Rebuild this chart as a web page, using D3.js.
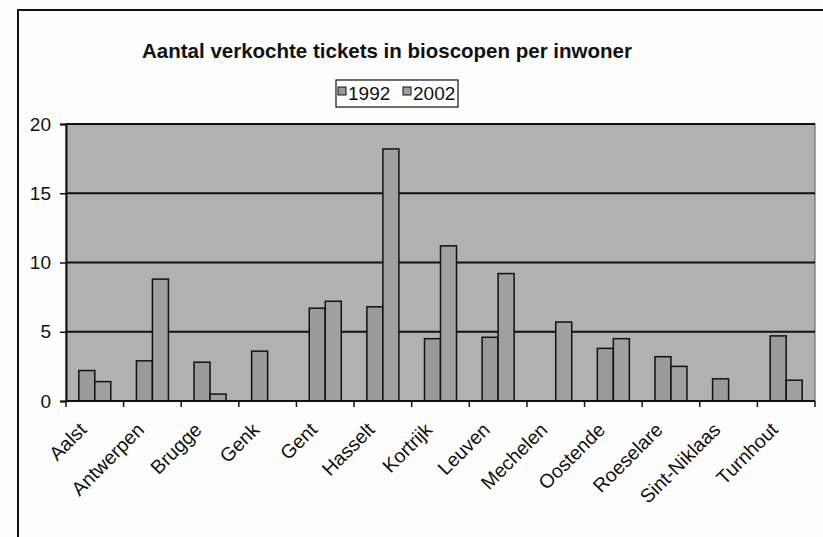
<!DOCTYPE html>
<html>
<head>
<meta charset="utf-8">
<script src="https://cdn.jsdelivr.net/npm/d3@7"></script>
<style>
  body { margin: 0; background: #fdfdfd; }
  text { font-family: "Liberation Sans", Arial, sans-serif; fill: #111; }
</style>
</head>
<body>
<div id="chart"></div>
<script>
const cities = ["Aalst", "Antwerpen", "Brugge", "Genk", "Gent", "Hasselt", "Kortrijk",
  "Leuven", "Mechelen", "Oostende", "Roeselare", "Sint-Niklaas", "Turnhout"];
const series = ["1992", "2002"];
const v1992 = [2.2, 2.9, 2.8, 3.6, 6.7, 6.8, 4.5, 4.6, null, 3.8, 3.2, 1.6, 4.7];
const v2002 = [1.4, 8.8, 0.5, null, 7.2, 18.2, 11.2, 9.2, 5.7, 4.5, 2.5, null, 1.5];
const yTicks = [0, 5, 10, 15, 20];

const w = 823;
const h = 537;
const colors = { "1992": "#9a9a9a", "2002": "#a0a0a0" };

const svg = d3.select("#chart").append("svg").attr("width", w).attr("height", h);

// outer chart frame (only left and top edges show in the picture)
svg.append("rect")
  .attr("x", 18).attr("y", 10)
  .attr("width", 830).attr("height", 540)
  .attr("fill", "none").attr("stroke", "#111").attr("stroke-width", 2);

const x = d3.scaleBand().domain(cities).range([66, 815]);
const xs = d3.scaleBand().domain(series).range([0, x.bandwidth()]).paddingOuter(0.8);
const y = d3.scaleLinear().domain([0, 20]).range([401, 124]);

// plot area
svg.append("rect")
  .attr("x", 66).attr("y", y(20))
  .attr("width", 815 - 66).attr("height", y(0) - y(20))
  .attr("fill", "#b1b1b1").attr("stroke", "#555").attr("stroke-width", 1);

svg.append("g")
  .selectAll("line")
  .data(yTicks.filter((d) => d > 0))
  .join("line")
  .attr("x1", 66).attr("x2", 815)
  .attr("y1", (d) => y(d)).attr("y2", (d) => y(d))
  .attr("stroke", "#111").attr("stroke-width", 2);

const rows = cities.map((c, i) => ({ city: c, "1992": v1992[i], "2002": v2002[i] }));

svg.append("g")
  .selectAll("g")
  .data(rows)
  .join("g")
  .attr("transform", (d) => `translate(${x(d.city)},0)`)
  .selectAll("rect")
  .data((d) => series.filter((s) => d[s] != null).map((s) => ({ s, v: d[s] })))
  .join("rect")
  .attr("x", (d) => xs(d.s))
  .attr("width", xs.bandwidth())
  .attr("y", (d) => y(d.v))
  .attr("height", (d) => y(0) - y(d.v))
  .attr("fill", (d) => colors[d.s])
  .attr("stroke", "#111")
  .attr("stroke-width", 1.5);

// axes
const gy = svg.append("g")
  .attr("transform", "translate(66,0)")
  .call(d3.axisLeft(y).tickValues(yTicks).tickSize(6).tickPadding(9));
gy.select(".domain").attr("stroke", "#111").attr("stroke-width", 2);
gy.selectAll(".tick line").attr("stroke", "#111").attr("stroke-width", 1.5);
gy.selectAll("text").attr("font-size", 19).style("font-family", "Liberation Sans, Arial, sans-serif");

const gx = svg.append("g").attr("transform", `translate(0,${y(0)})`);
gx.append("line")
  .attr("x1", 66).attr("x2", 815).attr("stroke", "#111").attr("stroke-width", 2);
gx.selectAll(".tk")
  .data(cities.concat(["end"]))
  .join("line")
  .attr("class", "tk")
  .attr("x1", (d, i) => 66 + i * x.step()).attr("x2", (d, i) => 66 + i * x.step())
  .attr("y1", 0).attr("y2", 6)
  .attr("stroke", "#111").attr("stroke-width", 1.5);
gx.selectAll(".lbl")
  .data(cities)
  .join("text")
  .attr("class", "lbl")
  .attr("text-anchor", "end")
  .attr("font-size", 19.5)
  .attr("transform", (d) => `translate(${x(d) + x.bandwidth() / 2 - 7},${30}) rotate(-45)`)
  .text((d) => d);

// title
svg.append("text")
  .attr("x", 387).attr("y", 58)
  .attr("text-anchor", "middle")
  .attr("font-size", 20.5)
  .attr("font-weight", "bold")
  .text("Aantal verkochte tickets in bioscopen per inwoner");

// legend
const lg = svg.append("g");
lg.append("rect")
  .attr("x", 336).attr("y", 80).attr("width", 122).attr("height", 27)
  .attr("fill", "#fff").attr("stroke", "#111").attr("stroke-width", 1.2);
const lx = [338, 403];
series.forEach((s, i) => {
  lg.append("rect")
    .attr("x", lx[i]).attr("y", 87).attr("width", 8).attr("height", 8)
    .attr("fill", colors[s]).attr("stroke", "#111").attr("stroke-width", 1);
  lg.append("text")
    .attr("x", lx[i] + 10).attr("y", 100)
    .attr("font-size", 19)
    .text(s);
});
</script>
</body>
</html>
